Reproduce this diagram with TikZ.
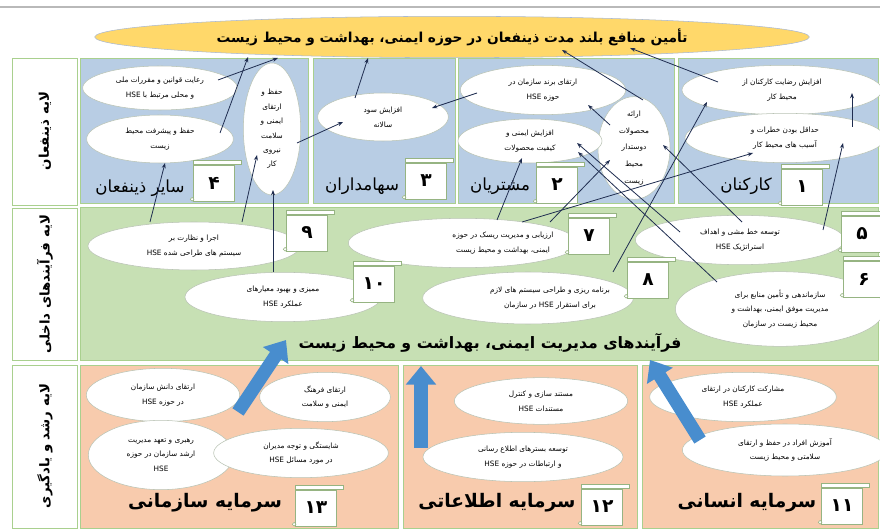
\documentclass[tikz,border=0pt]{standalone}
\usepackage{fontspec}
\usetikzlibrary{shapes.geometric,arrows.meta,calc}
\newfontfamily\farsi[Script=Arabic]{DejaVu Sans}
\TeXXeTstate=1
\newcommand\fa[1]{\beginR#1\endR}

\definecolor{skyfill}{RGB}{184,205,228}
\definecolor{leaffill}{RGB}{199,224,180}
\definecolor{peachfill}{RGB}{248,203,173}
\definecolor{goldfill}{RGB}{255,216,106}
\definecolor{goalline}{RGB}{170,185,210}
\definecolor{cellline}{RGB}{169,208,142}
\definecolor{ovalline}{RGB}{185,195,180}
\definecolor{boxline}{RGB}{150,180,130}
\definecolor{linkcol}{RGB}{31,45,80}
\definecolor{bigblue}{RGB}{72,141,206}

\tikzset{
  oval/.style={ellipse, draw=ovalline, fill=white, inner sep=-4pt, align=center,
    font=\farsi\fontsize{5.5}{11}\selectfont},
  ovaltext/.style={align=center, font=\farsi\fontsize{5.5}{11}\selectfont},
  numbox/.style={draw=boxline, fill=white, minimum width=31pt, minimum height=27pt,
    inner sep=0pt, font=\farsi\bfseries\fontsize{14}{14}\selectfont},
  link/.style={draw=linkcol, line width=0.6pt, -{Stealth[length=4pt,width=3pt]}},
  bigarrow/.style={draw=bigblue, line width=10pt, -{Triangle[width=22pt,length=14pt]}},
  cell/.style={draw=cellline, line width=0.6pt},
  layer/.style={rotate=90, font=\farsi\bfseries\fontsize{10}{10}\selectfont},
  owner/.style={font=\farsi\fontsize{12.5}{12.5}\selectfont},
  capital/.style={font=\farsi\bfseries\fontsize{14}{14}\selectfont},
}

\begin{document}
\begin{tikzpicture}[x=0.75pt,y=-0.75pt]
  \useasboundingbox (0,0) rectangle (880,530);
  \fill[white] (0,0) rectangle (880,530);
  \draw[gray!55, line width=1pt] (0,7) -- (880,7);

  % layers
  \draw[cell, fill=white] (12,58) rectangle (77,205);
  \draw[cell, fill=white] (12,208) rectangle (77,360);
  \draw[cell, fill=white] (12,365) rectangle (77,528);
  \node[layer] (lay1) at (45,131) {\fa{لایه ذینفعان}};
  \node[layer] (lay2) at (45,284) {\fa{لایه فرآیندهای داخلی}};
  \node[layer] (lay3) at (45,446) {\fa{لایه رشد و یادگیری}};

  \foreach \a/\b in {80/308, 313/455, 458/674, 678/878}
    \draw[cell, fill=skyfill] (\a,58) rectangle (\b,203);
  \draw[cell, fill=leaffill] (80,207) rectangle (878,360);
  \foreach \a/\b in {80/398, 403/637, 642/878}
    \draw[cell, fill=peachfill] (\a,365) rectangle (\b,528);

  \node[ellipse, draw=goalline, fill=goldfill, minimum width=536pt, minimum height=31pt,
    inner sep=0pt, font=\farsi\bfseries\fontsize{10.3}{10.3}\selectfont] (goal) at (452,37)
    {\fa{تأمین منافع بلند مدت ذینفعان در حوزه ایمنی، بهداشت و محیط زیست}};

  % stakeholders
  \node[oval, minimum width=116pt, minimum height=33pt] (law) at (160,88)
    {\fa{رعایت قوانین و مقررات ملی}\\\fa{و محلی مرتبط با HSE}};
  \node[oval, minimum width=110pt, minimum height=36pt] (env) at (160,139)
    {\fa{حفظ و پیشرفت محیط}\\\fa{زیست}};
  \node[oval, minimum width=43pt, minimum height=99pt, font=\farsi\fontsize{5.5}{10.8}\selectfont] (safe) at (272,129)
    {\fa{حفظ و}\\\fa{ارتقای}\\\fa{ایمنی و}\\\fa{سلامت}\\\fa{نیروی}\\\fa{کار}};
  \node[oval, minimum width=98pt, minimum height=36pt] (profit) at (383,117)
    {\fa{افزایش سود}\\\fa{سالانه}};
  \node[oval, minimum width=54pt, minimum height=77pt, font=\farsi\fontsize{5.5}{12.5}\selectfont] (green) at (634,148)
    {\fa{ارائه}\\\fa{محصولات}\\\fa{دوستدار}\\\fa{محیط}\\\fa{زیست}};
  \node[oval, minimum width=124pt, minimum height=37pt] (brand) at (543,90)
    {\fa{ارتقای برند سازمان در}\\\fa{حوزه HSE}};
  \node[oval, minimum width=108pt, minimum height=33pt] (quality) at (530,141)
    {\fa{افزایش ایمنی و}\\\fa{کیفیت محصولات}};
  \node[oval, minimum width=150pt, minimum height=37pt] (satisf) at (782,90)
    {\fa{افزایش رضایت کارکنان از}\\\fa{محیط کار}};
  \node[oval, minimum width=150pt, minimum height=37pt] (hazard) at (785,138)
    {\fa{حداقل بودن خطرات و}\\\fa{آسیب های محیط کار}};

  % internal processes
  \node[oval, minimum width=159pt, minimum height=36pt] (p9) at (194,246)
    {\fa{اجرا و نظارت بر}\\\fa{سیستم های طراحی شده HSE}};
  \node[oval, minimum width=147pt, minimum height=37pt] (p10) at (283,297)
    {\fa{ممیزی و بهبود معیارهای}\\\fa{عملکرد HSE}};
  \node[oval, minimum width=172pt, minimum height=37pt] (p7) at (463,243) {};
  \node[ovaltext] (p7t) at ($(p7)+(40,0)$)
    {\fa{ارزیابی و مدیریت ریسک در حوزه}\\\fa{ایمنی، بهداشت و محیط زیست}};
  \node[oval, minimum width=157pt, minimum height=37pt] (p5) at (740,240)
    {\fa{توسعه خط مشی و اهداف}\\\fa{استراتژیک HSE}};
  \node[oval, minimum width=158pt, minimum height=39pt] (p8) at (528,298) {};
  \node[ovaltext] (p8t) at ($(p8)+(22,0)$)
    {\fa{برنامه ریزی و طراحی سیستم های لازم}\\\fa{برای استقرار HSE در سازمان}};
  \node[oval, minimum width=157pt, minimum height=56pt] (p6) at (780,309)
    {\fa{سازماندهی و تأمین منابع برای}\\\fa{مدیریت موفق ایمنی، بهداشت و}\\\fa{محیط زیست در سازمان}};
  \node[font=\farsi\bfseries\fontsize{11.8}{11.8}\selectfont] (process) at (490,343)
    {\fa{فرآیندهای مدیریت ایمنی، بهداشت و محیط زیست}};

  % learning and growth
  \node[oval, minimum width=115pt, minimum height=40pt] (know) at (163,395)
    {\fa{ارتقای دانش سازمان}\\\fa{در حوزه HSE}};
  \node[oval, minimum width=98pt, minimum height=37pt] (culture) at (325,397)
    {\fa{ارتقای فرهنگ}\\\fa{ایمنی و سلامت}};
  \node[oval, minimum width=109pt, minimum height=52pt] (lead) at (161,455)
    {\fa{رهبری و تعهد مدیریت}\\\fa{ارشد سازمان در حوزه}\\\fa{HSE}};
  \node[oval, minimum width=131pt, minimum height=37pt] (skill) at (301,453)
    {\fa{شایستگی و توجه مدیران}\\\fa{در مورد مسائل HSE}};
  \node[oval, minimum width=130pt, minimum height=35pt] (docs) at (541,401)
    {\fa{مستند سازی و کنترل}\\\fa{مستندات HSE}};
  \node[oval, minimum width=150pt, minimum height=37pt] (media) at (523,457)
    {\fa{توسعه بسترهای اطلاع رسانی}\\\fa{و ارتباطات در حوزه HSE}};
  \node[oval, minimum width=140pt, minimum height=37pt] (share) at (743,397)
    {\fa{مشارکت کارکنان در ارتقای}\\\fa{عملکرد HSE}};
  \node[oval, minimum width=154pt, minimum height=39pt] (train) at (785,450)
    {\fa{آموزش افراد در حفظ و ارتقای}\\\fa{سلامتی و محیط زیست}};

  % numbered scrolls
  \foreach \n/\x/\y/\t in {n4/214/183/۴, n3/426/181/۳, n2/557/185/۲, n1/802/187/۱,
      n9/307/233/۹, n10/374/284/۱۰, n7/589/236/۷, n8/648/280/۸, n5/862/234/۵, n6/864/279/۶,
      n13/316/508/۱۳, n12/602/507/۱۲, n11/842/506/۱۱} {
    \node[numbox] (\n) at (\x,\y) {\t};
    \draw[boxline, fill=white] ($(\n.north west)+(0,-4)$) rectangle ($(\n.north east)+(6,0)$);
    \draw[boxline, fill=white] ($(\n.south west)+(-1,-2)$) circle (1.4pt);
  }

  \node[owner] (own4) at (140,188) {\fa{سایر ذینفعان}};
  \node[owner] (own3) at (362,186) {\fa{سهامداران}};
  \node[owner] (own2) at (500,186) {\fa{مشتریان}};
  \node[owner] (own1) at (746,186) {\fa{کارکنان}};
  \node[capital] (cap13) at (205,503) {\fa{سرمایه سازمانی}};
  \node[capital] (cap12) at (497,503) {\fa{سرمایه اطلاعاتی}};
  \node[capital] (cap11) at (747,503) {\fa{سرمایه انسانی}};

  % links
  \foreach \a/\ax/\ay/\b/\bx/\by in {law/58/-8/goal/-174/21, env/60/-6/goal/-204/20,
      safe/25/14/profit/-40/5, profit/-28/-19/goal/-84/21, brand/-66/3/profit/49/-9,
      green/9/-48/goal/110/13, satisf/-64/-8/goal/178/11, green/-24/-23/brand/45/15,
      hazard/67/-11/satisf/70/3, p5/83/-10/hazard/58/5, p5/2/-18/green/29/-3,
      p7/59/-21/hazard/-32/15, p7/87/-21/green/-24/12, p7/34/-23/quality/-8/17,
      p8/85/-26/satisf/-75/12, p5/-60/-8/quality/47/2, p6/-63/-27/quality/48/11,
      p9/-44/-24/env/5/24, p9/48/-24/safe/-15/26, p10/-10/-25/safe/1/61}
    \draw[link] ($(\a)+(\ax,\ay)$) -- ($(\b)+(\bx,\by)$);

  % growth arrows
  \coordinate (up13a) at (238,412); \coordinate (up13b) at (286,340);
  \coordinate (up12a) at (421,448); \coordinate (up12b) at (421,366);
  \coordinate (up11a) at (700,440); \coordinate (up11b) at (650,360);
  \draw[bigarrow] (up13a) -- (up13b);
  \draw[bigarrow] (up12a) -- (up12b);
  \draw[bigarrow] (up11a) -- (up11b);
\end{tikzpicture}
\end{document}
